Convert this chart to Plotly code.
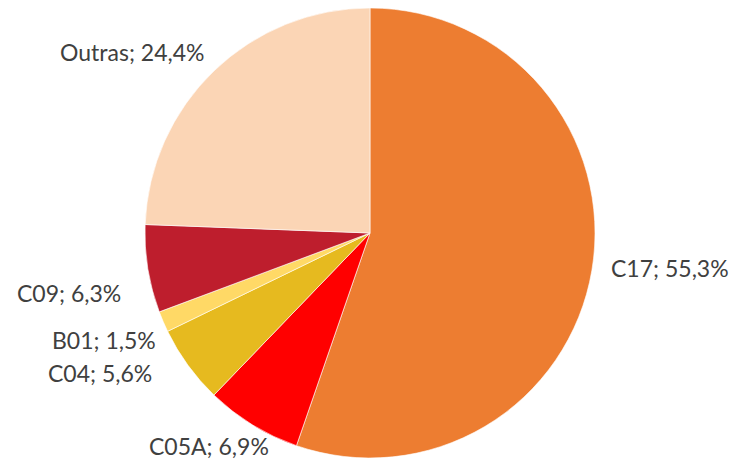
import plotly.graph_objects as go

categorias = ['C17', 'C05A', 'C04', 'B01', 'C09', 'Outras']
percentuais = [55.3, 6.9, 5.6, 1.5, 6.3, 24.4]
cores = ['#ED7D31', '#FF0000', '#E6BA1F', '#FFD966', '#BE1E2D', '#FBD5B5']

# page body has an 8px margin, so the figure is drawn a bit smaller
_OFF = 8
_W, _H = 739 - _OFF, 459 - _OFF

# label anchor positions (pixels in the target picture) and anchor side
label_pos = {
    'C17': (609, 268, 'left'),
    'C05A': (271, 446, 'right'),
    'C04': (154, 373, 'right'),
    'B01': (158, 340, 'right'),
    'C09': (123, 293, 'right'),
    'Outras': (206, 52, 'right'),
}

fig = go.Figure(go.Pie(
    labels=categorias,
    values=percentuais,
    marker=dict(colors=cores, line=dict(color='white', width=0.6)),
    sort=False,
    direction='clockwise',
    rotation=0,
    textinfo='none',
    hoverinfo='label+percent',
    showlegend=False,
    domain=dict(x=[0.1874, 0.8030], y=[0.0022, 1.0]),
))

for cat, pct in zip(categorias, percentuais):
    px_, py_, anchor = label_pos[cat]
    fig.add_annotation(
        text=f"{cat}; {pct:.1f}%".replace('.', ','),
        x=(px_ - _OFF) / _W, y=1 - (py_ - _OFF) / _H,
        xref='paper', yref='paper',
        xanchor=anchor, yanchor='middle',
        showarrow=False,
        font=dict(family='Lato, sans-serif', size=23, color='#404040'),
    )

fig.update_layout(
    width=_W, height=_H,
    margin=dict(l=0, r=0, t=0, b=0),
    paper_bgcolor='white',
    plot_bgcolor='white',
)

fig.write_html("out.html")
